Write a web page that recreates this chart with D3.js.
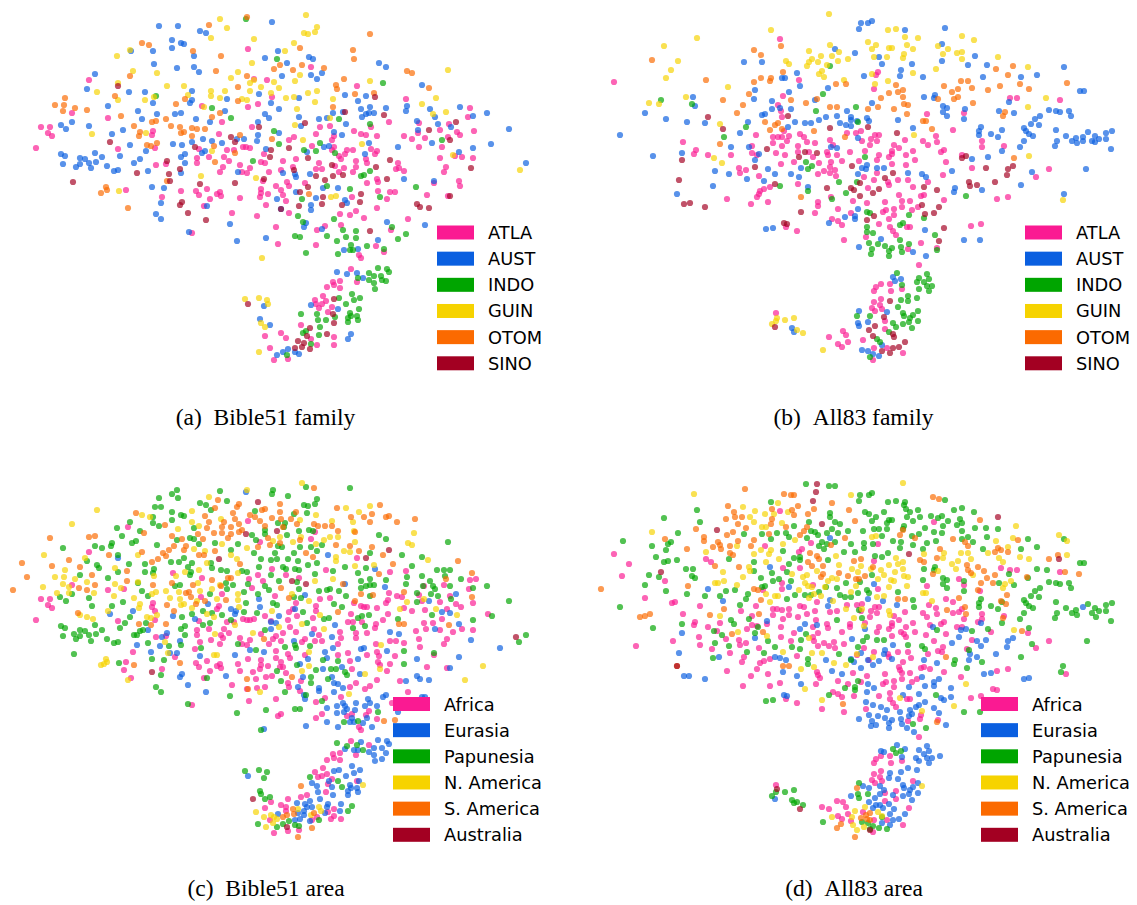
<!DOCTYPE html>
<html lang="en">
<head>
<meta charset="utf-8">
<title>language embeddings</title>
<script src="https://cdn.jsdelivr.net/npm/d3@7"></script>
<style>
  html, body { margin: 0; padding: 0; background: #fff; }
  svg { display: block; }
</style>
</head>
<body>
<svg width="1137" height="905"></svg>
<script>
// values, x and y in embedding units, one list per colour

const familyNames = ["ATLA", "AUST", "INDO", "GUIN", "OTOM", "SINO"];
const areaNames = ["Africa", "Eurasia", "Papunesia", "N. America", "S. America", "Australia"];
const captions = ["(a)\u00a0\u00a0Bible51 family", "(b)\u00a0\u00a0All83 family", "(c)\u00a0\u00a0Bible51 area", "(d)\u00a0\u00a0All83 area"];

const bibleFamilyAtla = [[89,80],[72,113],[108,118],[41,127],[50,127],[48,133],[52,136],[36,148],[118,149],[153,131],[152,135],[155,148],[156,165],[166,164],[126,190],[162,197],[181,191],[196,191],[199,195],[207,189],[210,199],[217,194],[220,192],[221,196],[204,206],[232,213],[257,216],[240,198],[248,49],[254,79],[267,80],[272,97],[258,104],[248,107],[202,106],[222,122],[252,127],[219,134],[199,149],[197,158],[197,163],[209,157],[227,150],[234,150],[243,147],[246,147],[250,148],[224,157],[229,161],[223,167],[220,172],[240,165],[250,168],[247,173],[242,172],[261,162],[265,163],[264,154],[269,172],[283,161],[281,170],[287,182],[289,186],[276,186],[261,189],[261,193],[260,197],[268,194],[281,190],[283,195],[286,201],[266,205],[263,181],[289,140],[289,213],
[311,67],[357,86],[406,99],[470,108],[468,117],[389,122],[419,123],[320,127],[330,126],[371,127],[449,124],[440,130],[457,132],[460,135],[474,131],[418,133],[354,131],[316,134],[361,134],[363,135],[366,135],[377,136],[294,137],[334,136],[332,140],[404,136],[412,139],[425,138],[448,137],[312,146],[334,147],[347,150],[353,150],[332,150],[345,154],[371,149],[377,151],[375,154],[419,147],[442,147],[440,158],[455,156],[462,157],[473,158],[283,161],[296,159],[339,156],[341,159],[356,161],[366,159],[367,163],[398,163],[319,163],[293,167],[316,169],[322,169],[335,166],[344,168],[356,167],[353,172],[339,172],[396,169],[399,168],[404,171],[446,167],[444,172],[377,179],[378,182],[380,184],[290,186],[305,183],[367,183],[459,181],[460,186],[434,183],[378,191],[380,192],[390,192],[395,192],[427,195],[448,196],[387,199],[352,197],[340,214],[350,215],[364,218],[408,219],[356,211],[377,208],
[192,233],[276,227],[278,244],[325,226],[317,230],[341,225],[316,245],[408,220],[391,230],[376,246],[378,248],[384,252],[359,255],[361,258],[351,269],[340,281],[333,282],[334,285],[327,287],[340,288],[357,282],[323,296],[315,300],[316,304],[326,301],[322,304],[319,308],[332,307],[328,312],[301,325],[281,333],[286,338],[265,336],[311,339],[334,337],[334,345],[317,345],[270,348],[274,360],[288,359]];
const bibleFamilyAust = [[159,26],[178,26],[200,31],[206,33],[272,22],[172,40],[174,39],[181,43],[184,44],[172,48],[153,51],[131,51],[194,56],[278,51],[265,58],[287,63],[154,64],[177,68],[194,67],[199,72],[282,76],[95,74],[87,89],[129,92],[145,92],[192,91],[227,99],[259,94],[153,103],[192,100],[190,103],[271,103],[272,101],[279,109],[108,106],[138,111],[157,114],[175,114],[181,113],[225,111],[265,114],[269,118],[72,122],[61,125],[66,129],[89,126],[142,119],[196,119],[210,122],[258,122],[123,130],[112,134],[279,133],[258,135],[203,139],[244,139],[237,139],[257,141],[212,141],[222,143],[192,142],[173,144],[182,145],[130,145],[146,151],[205,151],[202,153],[266,149],[185,154],[181,157],[61,154],[65,156],[95,153],[102,157],[120,156],[80,158],[85,159],[89,163],[80,164],[63,164],[76,167],[91,168],[96,162],[107,166],[114,171],[118,170],[134,163],[136,162],[140,159],[142,158],[148,171],[185,163],[181,173],[238,172],[283,173],[152,187],[164,188],[161,203],[207,206],[277,199],[156,214],[161,219],
[379,63],[386,67],[309,57],[313,59],[287,63],[322,73],[282,76],[311,75],[317,79],[422,85],[345,95],[366,96],[299,98],[358,101],[386,108],[361,109],[370,107],[374,113],[369,113],[366,114],[362,117],[343,112],[333,113],[327,118],[319,119],[299,117],[301,126],[407,106],[406,111],[430,109],[460,107],[435,117],[438,124],[417,121],[418,130],[473,116],[487,113],[509,129],[451,127],[346,124],[334,132],[342,135],[369,143],[324,147],[329,146],[398,147],[432,143],[491,144],[473,148],[459,152],[307,152],[365,154],[526,163],[310,174],[283,173],[285,175],[295,174],[296,177],[404,179],[434,181],[323,188],[338,188],[296,192],[316,198],[345,200],[347,203],[311,205],[311,210],[281,209],
[189,232],[230,224],[237,241],[266,238],[306,223],[304,227],[322,229],[387,222],[425,225],[358,249],[344,250],[378,240],[337,272],[347,274],[357,273],[363,278],[311,305],[264,306],[338,309],[260,319],[270,325],[351,334],[349,335],[348,339],[288,349],[283,352],[277,355],[295,352],[299,354]];
const bibleFamilyIndo = [[246,19],[277,59],[156,96],[212,108],[231,118],[274,131],[279,144],[253,161],
[383,83],[339,119],[370,124],[442,140],[320,143],[304,150],[316,151],[335,153],[280,144],[361,176],[364,175],[370,171],[416,187],[327,186],[350,189],[302,199],[380,197],[298,216],[334,219],
[303,222],[334,220],[295,236],[300,237],[343,230],[356,231],[327,236],[346,237],[356,238],[337,241],[351,245],[350,250],[353,250],[367,246],[306,253],[338,254],[392,227],[406,234],[398,239],[384,249],[378,268],[376,270],[387,269],[389,272],[369,273],[374,276],[381,276],[369,280],[358,278],[382,280],[386,281],[374,283],[375,289],[352,294],[339,298],[360,298],[354,300],[346,304],[359,309],[301,314],[317,314],[350,313],[351,316],[357,316],[348,318],[335,317],[318,320],[326,320],[358,320],[348,322],[320,327],[306,331],[303,333],[319,335],[311,344],[287,355]];
const bibleFamilyGuin = [[220,19],[227,28],[211,38],[254,39],[285,51],[117,56],[130,50],[252,63],[238,72],[133,71],[131,73],[157,73],[231,78],[274,82],[250,83],[254,80],[118,83],[167,86],[184,86],[279,88],[97,92],[211,91],[225,91],[250,91],[261,87],[271,93],[188,95],[211,96],[220,98],[242,99],[247,100],[286,98],[145,100],[118,100],[154,97],[204,107],[146,133],[92,134],[212,151],[119,191],[201,176],[256,178],
[306,15],[317,27],[304,33],[308,34],[315,32],[294,43],[300,75],[295,81],[370,81],[448,70],[308,93],[317,91],[286,98],[294,97],[315,102],[333,99],[297,109],[422,104],[436,98],[446,112],[433,114],[330,118],[295,125],[303,140],[362,144],[453,155],[520,170],[331,197],[336,196],
[262,258],[245,299],[259,298],[267,300],[268,304],[261,323],[265,327],[259,352]];
const bibleFamilyOtom = [[247,17],[209,25],[142,43],[149,45],[193,51],[221,56],[274,69],[280,65],[216,71],[247,76],[130,76],[238,87],[65,98],[115,96],[238,101],[55,105],[64,105],[75,108],[63,111],[87,110],[176,104],[185,99],[121,116],[220,113],[212,117],[166,119],[156,121],[152,122],[134,126],[171,126],[180,127],[192,128],[197,129],[205,129],[140,132],[139,136],[181,133],[184,132],[192,136],[240,135],[272,139],[147,145],[151,146],[157,143],[214,146],[235,153],[215,162],[106,187],[107,190],[101,193],[103,192],[167,181],[128,208],
[370,34],[300,48],[353,50],[354,59],[302,65],[281,65],[293,70],[324,68],[407,71],[412,73],[344,79],[336,85],[337,89],[429,88],[355,94],[374,93],[333,107],[309,194]];
const bibleFamilySino = [[118,86],[259,127],[110,142],[231,137],[235,142],[195,147],[271,150],[289,148],[270,157],[167,161],[180,169],[137,173],[170,181],[200,184],[235,183],[264,179],[73,182],[182,202],[180,205],[188,213],[206,220],[281,209],[169,174],
[375,97],[345,112],[384,115],[305,123],[456,122],[429,130],[450,140],[289,148],[308,158],[332,165],[390,160],[471,168],[294,170],[316,176],[333,176],[343,175],[325,180],[387,179],[308,187],[300,192],[361,194],[323,197],[322,204],[299,206],[342,205],[360,202],[417,204],[420,207],[429,208],[450,196],[376,167],
[206,220],[370,231],[248,304],[334,299],[333,314],[334,323],[310,328],[327,334],[307,336],[298,341],[304,343],[302,347],[295,348],[310,349]];

const allFamilyAtla = [[26,82],[192,39],[211,80],[195,96],[190,105],[193,111],[194,117],[168,135],[185,137],[190,137],[194,137],[201,136],[196,131],[185,143],[199,141],[194,146],[212,134],[216,137],[210,146],[219,142],[227,143],[210,152],[221,152],[225,157],[188,153],[197,155],[206,162],[231,163],[193,164],[230,174],[210,184],[95,142],[108,150],[106,154],[120,155],[143,155],[164,146],[164,153],[169,155],[151,168],[158,170],[152,173],[171,176],[182,187],[176,189],[172,191],[171,194],[169,197],[163,204],[180,202],[139,199],[239,152],[240,155],[249,155],[243,162],[242,167],[254,161],[247,170],[242,173],[236,171],[248,176],[242,140],[245,145],[259,133],[268,133],[273,131],[262,152],[262,154],[277,151],[271,161],[276,177],[280,188],[243,197],[265,201],[279,203],[250,209],[263,213],[230,202],[230,206],[232,206],[227,213],[228,211],[244,219],[250,221],
[290,72],[288,75],[286,89],[422,98],[429,98],[472,100],[339,114],[376,113],[365,130],[367,131],[348,136],[349,142],[335,141],[340,145],[317,140],[287,135],[291,135],[283,139],[289,141],[273,131],[274,141],[282,145],[306,145],[311,148],[277,151],[291,155],[289,160],[304,151],[304,154],[301,157],[318,155],[325,151],[327,160],[318,165],[304,164],[353,152],[356,150],[358,148],[358,162],[374,155],[394,141],[394,147],[416,146],[384,168],[355,175],[340,182],[461,169],[448,177],[310,180],[320,180],[286,180],[289,173],[276,177],[300,182],[301,185],[281,188],[325,187],[311,195],[312,195],[333,196],[336,195],[356,200],[314,201],[322,201],[297,202],[279,204],[314,207],[306,209],[330,207],[324,210],[298,210],[295,212],[306,215],[301,219],[409,199],[420,197],
[198,227],[209,231],[250,222],[254,225],[245,220],[291,224],[302,221],[302,227],[305,231],[308,235],[278,237],[256,240],[319,227],[322,227],[333,243],[320,249],[349,248],[383,226],[393,224],[331,265],[293,284],[302,284],[303,291],[314,289],[288,287],[286,291],[293,299],[286,302],[292,305],[284,308],[287,311],[294,309],[297,321],[297,329],[188,313],[255,331],[258,335],[241,337],[275,340],[260,342],[250,344],[254,347],[286,348],[299,348],[315,353],[285,360]];
const allFamilyAust = [[273,23],[274,23],[280,23],[271,29],[247,49],[267,53],[156,62],[174,62],[209,73],[194,78],[197,78],[276,76],[212,86],[240,88],[167,90],[201,92],[166,99],[105,97],[107,106],[184,101],[184,109],[192,108],[203,109],[227,100],[57,113],[78,119],[99,122],[117,123],[174,115],[177,114],[160,122],[152,133],[207,122],[217,123],[223,123],[231,120],[238,117],[249,116],[259,111],[263,117],[263,120],[252,123],[258,125],[263,126],[269,121],[200,127],[279,118],[32,135],[65,156],[94,153],[143,147],[161,147],[171,154],[167,160],[127,171],[141,174],[180,169],[187,174],[159,179],[176,181],[125,186],[213,168],[203,174],[211,177],[220,187],[243,147],[249,148],[270,138],[274,168],[270,174],[279,165],[89,194],[270,209],[257,217],[267,216],
[284,21],[281,23],[274,23],[357,28],[317,30],[354,44],[291,57],[294,64],[324,64],[354,61],[387,56],[380,65],[399,65],[313,70],[312,76],[276,76],[335,77],[395,77],[433,77],[449,75],[476,67],[492,91],[496,91],[347,95],[346,98],[336,97],[421,102],[355,106],[359,108],[355,112],[359,116],[377,109],[376,119],[284,103],[279,118],[281,121],[310,120],[325,128],[411,111],[426,113],[461,110],[468,111],[472,112],[481,111],[483,116],[452,116],[447,119],[443,124],[451,125],[436,128],[438,131],[441,134],[445,136],[468,130],[414,130],[393,127],[391,131],[391,135],[403,134],[410,137],[436,141],[432,147],[478,136],[469,141],[467,146],[484,141],[488,138],[489,143],[495,137],[500,132],[495,141],[504,141],[507,136],[511,139],[507,142],[518,133],[518,139],[524,131],[526,130],[523,149],[414,151],[400,157],[384,159],[498,169],[364,171],[334,174],[338,177],[320,173],[289,168],[296,168],[274,168],[278,169],[280,165],[444,172],[433,185],[367,188],[366,192],[394,190],[476,194],
[178,229],[185,228],[241,223],[267,219],[376,240],[392,240],[337,230],[271,247],[293,239],[325,252],[338,256],[305,277],[307,281],[313,279],[311,281],[271,311],[299,312],[270,323],[271,326],[280,322],[204,328],[206,332],[294,345],[274,350],[280,351],[285,354],[287,353],[291,356]];
const allFamilyIndo = [[242,66],[235,94],[73,100],[104,104],[228,111],[268,107],[158,127],[136,137],[270,122],[218,162],[224,166],[220,169],[277,157],[251,182],[269,182],[192,186],[220,191],[258,193],[244,199],[246,201],[279,212],
[277,157],[378,196],[280,212],[282,213],[321,215],[336,218],
[279,227],[279,232],[285,233],[312,240],[336,218],[312,225],[315,223],[347,235],[281,243],[290,244],[297,246],[304,248],[301,251],[284,249],[283,254],[301,256],[313,247],[314,252],[321,244],[349,250],[309,273],[339,274],[331,278],[329,282],[341,279],[336,282],[339,286],[344,286],[331,289],[341,291],[314,285],[320,296],[329,298],[313,300],[320,301],[310,307],[330,311],[315,313],[316,316],[325,315],[322,318],[321,322],[330,321],[315,324],[324,328],[305,323],[308,327],[301,332],[269,316],[282,316],[289,339],[292,342],[282,357]];
const allFamilyGuin = [[241,14],[183,30],[109,38],[76,46],[90,61],[83,70],[78,78],[242,45],[280,42],[221,51],[198,61],[201,64],[224,59],[221,62],[219,66],[230,62],[233,56],[244,56],[251,52],[250,61],[260,59],[239,65],[234,71],[231,74],[236,77],[256,80],[140,87],[98,97],[61,103],[71,104],[132,124],[126,158],[134,163],
[300,30],[308,29],[317,37],[330,38],[281,42],[288,45],[284,49],[284,51],[301,48],[304,48],[319,45],[325,49],[350,46],[360,49],[355,54],[374,36],[376,35],[386,40],[369,53],[374,52],[374,59],[316,54],[315,58],[299,57],[286,57],[348,69],[325,73],[284,74],[300,81],[410,57],[440,67],[458,98],[440,107],[326,135],[441,156],[475,200],[287,84],
[189,318],[188,321],[184,324],[197,320],[206,318],[209,330],[215,333],[235,350]];
const allFamilyOtom = [[64,60],[166,50],[173,55],[193,46],[118,80],[195,72],[173,78],[166,82],[183,78],[182,81],[248,84],[258,84],[161,94],[135,100],[155,105],[149,113],[203,100],[218,103],[229,99],[242,107],[249,107],[280,109],[177,122],[187,125],[190,123],[182,130],[194,129],[226,131],[132,144],[257,137],[213,197],
[408,69],[425,66],[420,75],[479,83],[356,86],[373,81],[380,81],[308,85],[315,90],[310,92],[301,93],[315,97],[293,98],[350,99],[364,92],[370,89],[384,88],[400,90],[412,86],[432,84],[441,89],[366,99],[370,97],[385,103],[316,104],[320,105],[282,107],[290,107],[280,109],[306,109],[319,114],[335,121],[338,121],[417,112],[415,116],[344,129],[426,158]];
const allFamilySino = [[120,117],[135,129],[200,116],[242,128],[94,160],[179,149],[217,152],[229,153],[211,157],[167,167],[264,166],[91,180],[187,184],[239,188],[272,183],[263,188],[266,190],[272,196],[96,204],[102,203],[117,207],[213,212],[280,127],
[280,127],[309,133],[378,156],[374,158],[398,168],[425,166],[420,169],[418,171],[419,175],[407,182],[389,185],[381,182],[382,186],[305,173],[297,178],[291,189],[285,193],[273,196],[336,187],[349,190],[334,205],[351,207],[337,214],[346,213],[286,216],[273,183],
[196,223],[199,224],[279,220],[356,228],[351,241],[302,301],[296,317],[287,326],[281,330],[187,327],[285,336],[305,334],[306,337],[317,342],[311,347],[305,348],[294,351],[302,353]];

const bibleAreaAfrica = [[128,57],[248,51],[89,82],[260,72],[173,103],[72,115],[108,120],[124,119],[41,129],[50,129],[48,135],[52,138],[36,150],[118,151],[153,133],[152,137],[155,141],[155,150],[156,167],[166,166],[133,182],[126,192],[124,200],[131,208],[162,199],[175,187],[202,108],[222,124],[201,127],[249,109],[258,105],[252,118],[263,111],[219,136],[217,139],[199,151],[197,160],[197,165],[209,159],[227,152],[234,152],[243,149],[247,150],[250,150],[254,149],[265,146],[224,159],[229,163],[221,165],[223,168],[220,174],[240,168],[250,170],[247,175],[242,174],[261,164],[269,174],[283,163],[281,171],[200,172],[211,170],[195,179],[196,193],[199,197],[207,191],[210,201],[217,196],[220,194],[221,198],[204,208],[238,194],[248,189],[240,201],[253,202],[232,215],[257,218],[265,217],[261,190],[261,195],[260,199],[268,196],[276,188],[281,192],[283,197],[286,203],[266,207],[272,206],[288,213],[256,209],
[315,62],[311,69],[357,88],[326,100],[390,102],[406,101],[470,110],[476,109],[286,105],[272,99],[299,108],[469,119],[424,116],[444,115],[275,126],[320,129],[330,128],[389,123],[388,130],[397,126],[402,127],[419,125],[386,133],[296,133],[354,133],[450,126],[440,132],[422,131],[473,133],[316,136],[316,141],[361,136],[364,137],[367,137],[377,138],[404,138],[412,141],[425,140],[461,137],[456,134],[447,139],[293,139],[289,142],[297,146],[313,148],[351,144],[351,146],[388,144],[383,150],[442,149],[424,153],[433,153],[488,144],[288,150],[271,151],[348,152],[353,152],[362,152],[376,154],[375,158],[314,159],[290,157],[426,159],[416,161],[440,160],[453,162],[462,159],[473,160],[296,162],[340,162],[367,163],[356,163],[319,165],[276,166],[283,163],[273,169],[281,172],[302,172],[305,169],[315,171],[322,171],[341,168],[356,168],[419,169],[447,169],[390,171],[396,171],[404,173],[376,174],[444,174],[338,174],[276,181],[288,184],[305,185],[348,183],[367,185],[377,182],[379,186],[420,177],[434,185],[290,188],[395,186],[338,185],[350,191],[280,192],[280,197],[378,192],[380,195],[390,194],[427,197],[447,198],[272,206],[287,203],[352,199],[387,201],[356,213],[377,210],[301,211],[350,217],[370,216],[289,217],[400,211],[365,219],
[232,215],[247,219],[249,231],[276,229],[192,235],[278,246],[281,244],[265,217],[289,217],[300,221],[341,227],[316,232],[325,228],[365,220],[370,216],[408,222],[392,233],[369,241],[322,244],[316,248],[347,246],[352,244],[366,245],[377,249],[359,257],[361,260],[378,251],[351,271],[369,275],[356,285],[333,284],[340,283],[327,290],[334,288],[340,290],[323,298],[315,302],[318,307],[327,304],[322,306],[332,309],[328,314],[357,311],[326,322],[307,325],[301,327],[288,329],[271,332],[265,338],[281,335],[286,337],[286,341],[270,350],[274,363],[288,361],[299,360],[334,339],[328,342],[317,347],[334,346],[331,349],[341,349],[312,350]];
const bibleAreaEurasia = [[246,22],[118,88],[208,134],[110,144],[133,141],[173,146],[231,139],[236,141],[235,144],[259,129],[260,137],[195,149],[148,160],[167,163],[162,167],[137,175],[160,176],[180,171],[151,182],[170,183],[177,183],[200,186],[235,185],[250,180],[264,182],[271,159],[271,152],[276,153],[182,204],[180,207],[188,215],[226,206],
[328,85],[375,99],[345,114],[385,117],[305,125],[456,124],[295,139],[279,146],[278,152],[450,143],[442,142],[429,131],[335,155],[459,154],[435,159],[390,162],[399,164],[312,164],[332,167],[294,171],[471,170],[500,178],[333,178],[361,179],[364,178],[387,181],[417,189],[459,187],[325,182],[327,188],[308,189],[358,189],[300,194],[323,199],[342,197],[360,204],[450,198],[417,206],[420,209],[429,210],[406,211],[332,207],[303,207],[334,213],[338,214],[343,218],[319,218],[298,217],
[264,259],[206,222],[304,225],[305,229],[334,222],[319,221],[386,225],[383,227],[422,227],[425,227],[398,242],[368,229],[370,233],[365,236],[343,233],[345,236],[356,233],[337,236],[327,238],[377,236],[347,239],[355,240],[337,243],[344,242],[352,248],[367,248],[327,252],[350,252],[354,252],[363,253],[338,257],[372,257],[306,256],[188,215],[378,270],[387,271],[361,272],[389,274],[345,279],[354,280],[358,280],[369,282],[374,278],[382,278],[386,283],[374,285],[382,289],[375,291],[352,296],[334,301],[339,300],[354,303],[360,300],[346,306],[248,306],[312,313],[317,316],[318,322],[329,311],[332,317],[334,319],[359,311],[350,315],[351,318],[357,318],[348,321],[358,322],[348,325],[333,325],[320,329],[310,331],[297,333],[305,334],[307,337],[311,333],[312,337],[304,341],[328,334],[327,337],[341,334],[325,343],[340,341],[278,344],[298,343],[304,345],[300,349],[295,350],[310,351]];
const bibleAreaPapunesia = [[177,20],[172,24],[159,28],[178,28],[220,21],[227,31],[200,33],[206,35],[272,24],[273,20],[155,37],[161,37],[211,40],[255,41],[172,42],[174,41],[181,45],[184,46],[153,47],[172,50],[130,52],[153,53],[117,58],[159,56],[194,58],[140,61],[265,60],[278,53],[265,64],[122,66],[177,70],[190,68],[194,69],[252,65],[256,70],[136,71],[132,73],[112,73],[95,76],[102,78],[111,76],[63,78],[157,75],[199,74],[215,73],[238,74],[118,85],[231,80],[254,83],[282,77],[87,91],[129,94],[145,94],[171,92],[179,92],[184,88],[192,93],[211,93],[261,89],[271,90],[277,89],[97,95],[99,98],[145,102],[154,99],[153,103],[188,97],[191,102],[190,105],[212,98],[221,100],[227,101],[242,101],[247,102],[259,97],[118,102],[80,105],[108,108],[271,105],[138,113],[175,116],[180,115],[226,113],[233,115],[248,114],[265,116],[142,121],[72,124],[60,127],[66,131],[89,128],[148,126],[210,124],[227,119],[244,122],[269,120],[258,124],[123,132],[246,133],[273,133],[277,135],[92,136],[112,136],[203,141],[212,143],[222,145],[244,142],[257,143],[192,144],[182,147],[130,147],[125,153],[146,153],[210,153],[203,155],[185,156],[181,159],[61,156],[65,158],[95,155],[102,160],[120,158],[80,160],[85,161],[74,164],[80,166],[63,166],[76,169],[89,165],[91,171],[96,164],[107,169],[114,173],[118,172],[134,165],[137,165],[140,161],[143,160],[148,173],[185,165],[181,175],[169,176],[201,178],[238,174],[256,180],[152,189],[164,190],[119,193],[74,184],[161,205],[207,208],[156,217],[277,201],[265,160],[231,150],
[350,18],[306,17],[273,20],[273,24],[288,26],[317,29],[315,34],[304,35],[308,36],[307,43],[294,44],[278,53],[285,53],[284,57],[299,61],[309,60],[313,61],[287,65],[379,65],[386,69],[448,72],[278,76],[282,78],[300,77],[311,77],[322,75],[317,81],[294,83],[275,83],[272,88],[278,90],[288,89],[298,91],[370,83],[402,85],[422,87],[317,93],[308,95],[283,97],[286,99],[295,99],[299,100],[345,97],[366,98],[412,96],[437,100],[444,100],[450,100],[272,105],[333,101],[315,104],[358,103],[422,106],[445,106],[461,109],[279,111],[297,112],[361,111],[370,109],[386,110],[407,107],[430,111],[406,114],[433,116],[450,116],[487,116],[473,118],[435,119],[423,116],[299,119],[319,121],[327,120],[330,119],[339,121],[361,118],[366,116],[370,115],[374,115],[417,123],[431,124],[438,126],[346,126],[370,126],[294,127],[301,128],[451,129],[274,133],[279,135],[334,134],[342,137],[417,132],[509,131],[492,146],[303,142],[432,145],[324,149],[329,148],[358,148],[362,146],[369,145],[398,149],[473,150],[307,153],[365,156],[353,158],[526,165],[519,172],[517,170],[310,176],[296,178],[295,175],[285,177],[404,181],[434,183],[404,194],[323,190],[338,191],[297,195],[316,200],[331,199],[336,199],[276,201],[345,202],[347,205],[311,207],[311,213],[328,209],[281,211],
[156,217],[161,222],[188,234],[230,226],[285,222],[306,225],[266,240],[237,243],[295,239],[300,239],[261,260],[322,231],[378,242],[344,252],[358,251],[337,273],[347,276],[357,275],[363,280],[245,301],[259,300],[267,302],[264,308],[310,307],[338,311],[342,317],[260,321],[261,324],[265,329],[270,327],[352,336],[350,337],[348,341],[319,350],[289,351],[283,354],[258,354],[277,357],[295,355],[299,356]];
const bibleAreaNAmerica = [[97,40],[72,54],[192,41],[209,27],[247,20],[142,45],[150,47],[192,52],[199,56],[178,59],[221,49],[222,74],[44,85],[85,88],[138,85],[194,79],[205,81],[231,85],[247,78],[273,71],[207,93],[237,89],[115,98],[65,100],[55,107],[64,107],[75,109],[87,112],[63,114],[115,114],[121,118],[43,117],[69,117],[69,123],[57,123],[94,123],[114,126],[134,128],[138,112],[154,106],[176,106],[185,102],[199,100],[238,103],[156,122],[152,124],[166,121],[212,119],[220,115],[200,121],[179,122],[198,113],[170,128],[171,128],[180,129],[197,131],[217,129],[238,124],[238,130],[140,134],[139,138],[181,135],[184,134],[192,138],[239,137],[272,141],[108,141],[80,145],[87,147],[93,149],[147,147],[151,148],[157,145],[207,144],[214,147],[235,155],[215,164],[253,163],[165,172],[168,183],[106,189],[107,192],[101,195],[104,194],[214,185],[217,185],[128,210],
[302,13],[346,38],[370,36],[359,42],[316,45],[300,50],[332,51],[353,52],[354,61],[414,63],[330,67],[338,67],[324,70],[293,72],[280,67],[301,67],[273,71],[316,74],[355,72],[408,73],[412,75],[344,81],[350,82],[336,87],[336,91],[428,90],[355,96],[374,95],[333,109],[315,111],[292,124],[309,131],[407,132],[424,129],[400,139],[436,139],[320,145],[457,145],[272,141],[302,154],[279,157],[324,159],[381,175],[309,182],[380,199],[483,196],[302,201],[309,196],[365,204],[465,210],
[260,222],[349,224],[363,315],[256,342],[264,347],[271,345],[274,347],[277,349],[273,353],[266,357],[298,339],[319,337],[321,341],[311,345]];
const bibleAreaSAmerica = [[136,43],[218,30],[239,34],[237,37],[215,38],[205,46],[209,52],[233,43],[235,49],[250,45],[255,47],[260,51],[262,40],[265,39],[165,55],[207,58],[214,63],[224,52],[222,57],[222,63],[231,57],[239,54],[239,62],[242,60],[231,64],[265,56],[144,63],[198,64],[203,69],[228,68],[268,68],[50,68],[89,67],[95,66],[172,66],[182,69],[174,76],[169,80],[163,83],[166,86],[158,89],[152,92],[184,80],[186,76],[215,81],[270,75],[199,85],[204,85],[142,82],[109,85],[69,90],[22,93],[23,91],[52,96],[80,97],[27,107],[92,105],[127,101],[240,94],[258,77],[127,111],[95,115],[13,120],[79,118],[87,120],[153,115],[172,113],[193,115],[212,110],[228,108],[231,108],[221,116],[189,122],[186,123],[191,127],[167,135],[174,141],[196,134],[205,131],[226,130],[78,143],[139,154],[151,155],[166,154],[180,193],[134,195],[264,169],[247,209],[248,219],
[314,18],[280,34],[337,38],[380,35],[280,42],[296,42],[351,47],[364,47],[372,44],[386,47],[389,46],[397,52],[370,52],[415,49],[272,48],[281,49],[291,49],[314,54],[318,56],[325,56],[332,56],[297,54],[283,57],[338,61],[355,62],[300,70],[336,75],[350,76],[372,77],[271,75],[280,73],[306,83],[313,87],[359,81],[383,85],[393,94],[458,91],[459,89],[379,104],[472,103],[446,109],[281,118],[343,114],[404,122],[361,124],[373,125],[289,128],[355,131],[472,127],[338,142],[399,154],[404,154],[449,155],[292,207],
[301,316],[384,251],[395,250],[293,339],[283,347],[287,345],[294,344],[314,343],[312,358],[298,367]];
const bibleAreaAustralia = [[258,32],[246,64],[277,61],[219,89],[152,202],[277,61],[389,80],[366,88],[292,111],[306,114],[516,167],[253,329],[287,357]];

const allAreaAfrica = [[192,41],[223,73],[177,76],[26,84],[41,94],[34,106],[77,111],[118,89],[123,92],[214,79],[211,82],[195,98],[212,98],[194,113],[194,119],[175,120],[57,128],[84,133],[87,132],[112,136],[168,136],[185,139],[189,139],[194,140],[201,139],[212,136],[216,137],[225,115],[229,132],[227,141],[219,144],[242,142],[249,141],[95,144],[153,141],[185,145],[195,149],[201,145],[210,147],[228,150],[262,154],[269,135],[274,134],[259,135],[107,152],[106,155],[120,157],[132,153],[129,161],[164,146],[164,155],[169,156],[159,159],[179,154],[193,157],[206,163],[225,157],[239,154],[240,158],[254,162],[262,157],[111,167],[85,171],[112,175],[138,169],[151,170],[158,173],[152,175],[124,179],[171,178],[193,167],[203,171],[230,163],[231,164],[225,167],[226,171],[230,176],[236,173],[241,176],[246,172],[247,178],[256,174],[142,183],[209,186],[48,176],[156,187],[154,192],[172,193],[176,191],[174,195],[169,199],[182,189],[139,201],[180,204],[163,206],[229,202],[230,205],[232,208],[250,211],[265,203],[260,214],[192,213],[155,216],[182,216],[228,214],[227,216],[258,214],[262,216],[269,185],
[346,52],[290,74],[288,76],[286,91],[413,98],[422,100],[429,100],[472,102],[371,109],[376,115],[339,116],[392,121],[290,119],[358,129],[365,132],[341,135],[287,137],[291,137],[283,141],[289,143],[282,147],[273,141],[317,142],[348,138],[349,144],[335,143],[339,147],[340,147],[306,146],[311,150],[277,153],[291,157],[289,162],[304,153],[304,156],[301,159],[318,157],[325,153],[327,162],[313,162],[318,167],[304,166],[316,164],[353,154],[356,152],[358,150],[342,155],[358,164],[338,165],[365,143],[371,142],[374,139],[376,149],[369,157],[374,157],[394,144],[394,149],[416,146],[390,152],[403,162],[440,163],[384,170],[461,171],[448,178],[346,171],[355,177],[340,184],[350,181],[354,182],[379,179],[310,182],[320,182],[286,182],[276,178],[300,184],[301,187],[281,190],[315,192],[323,188],[311,197],[333,198],[336,197],[342,199],[356,202],[312,200],[314,203],[322,203],[297,204],[279,206],[314,209],[306,211],[329,209],[324,212],[298,212],[295,214],[306,217],[373,207],[409,201],[420,199],[478,204],[405,219],[278,208],[273,212],
[198,229],[209,233],[234,239],[250,224],[254,227],[245,222],[266,226],[291,226],[302,223],[302,229],[305,233],[308,237],[278,239],[256,242],[319,229],[322,229],[333,245],[320,251],[350,250],[383,228],[393,226],[404,221],[409,220],[331,267],[293,286],[302,286],[303,293],[314,291],[288,289],[286,293],[293,301],[286,304],[292,307],[284,310],[287,313],[294,311],[297,323],[297,331],[325,311],[308,321],[308,329],[321,338],[188,315],[249,331],[255,332],[258,337],[241,339],[234,337],[275,342],[260,344],[250,346],[254,349],[263,351],[286,350],[299,350],[315,355],[285,362],[332,249],[291,225]];
const allAreaEurasia = [[242,68],[182,97],[120,119],[135,131],[201,117],[242,130],[240,136],[179,151],[217,154],[229,155],[212,159],[94,163],[167,168],[264,169],[277,159],[91,183],[131,187],[187,187],[192,188],[198,190],[238,190],[263,189],[266,192],[280,190],[273,198],[195,202],[209,206],[244,201],[246,203],[96,206],[101,206],[103,205],[117,209],[213,214],[280,214],[254,204],
[286,114],[280,129],[309,135],[295,131],[495,137],[393,153],[378,159],[373,160],[345,157],[277,159],[389,171],[398,170],[425,168],[420,171],[418,173],[419,177],[393,176],[371,167],[364,173],[408,184],[389,187],[382,184],[381,190],[305,175],[297,180],[296,184],[304,189],[291,191],[285,195],[273,198],[336,190],[349,193],[396,204],[403,203],[436,209],[441,208],[334,207],[351,209],[346,212],[337,216],[346,216],[363,218],[321,217],[286,218],[281,215],[273,183],
[196,225],[199,226],[279,222],[285,219],[356,230],[363,227],[337,232],[353,228],[331,224],[315,225],[346,238],[351,243],[358,255],[278,232],[279,234],[285,235],[293,237],[299,240],[281,245],[290,246],[312,242],[322,240],[324,244],[328,237],[331,235],[271,249],[284,251],[283,256],[288,255],[297,248],[304,250],[301,253],[301,258],[313,249],[314,254],[319,258],[321,246],[326,262],[309,275],[339,276],[317,279],[293,281],[296,282],[314,287],[331,280],[341,281],[328,288],[336,284],[339,288],[344,288],[352,286],[331,291],[341,293],[320,298],[329,300],[313,302],[302,303],[301,308],[310,309],[330,313],[315,315],[325,317],[322,320],[316,318],[321,324],[330,323],[315,326],[324,330],[275,316],[281,318],[292,316],[296,320],[292,324],[287,328],[281,332],[263,326],[305,325],[301,334],[306,339],[288,335],[285,338],[292,335],[295,338],[302,344],[317,344],[311,349],[305,350],[294,353],[302,355],[187,329]];
const allAreaPapunesia = [[218,14],[241,16],[247,16],[272,25],[274,25],[271,31],[183,32],[109,40],[76,48],[242,43],[242,47],[277,42],[112,52],[247,52],[252,54],[221,52],[206,56],[90,63],[35,71],[174,64],[189,63],[198,63],[201,67],[156,64],[223,61],[227,62],[230,65],[239,63],[244,59],[250,63],[260,61],[275,61],[263,74],[247,72],[219,68],[239,74],[234,72],[231,76],[236,79],[64,76],[80,74],[83,72],[78,80],[183,69],[195,81],[197,81],[256,82],[267,82],[276,78],[68,87],[76,92],[80,91],[89,90],[141,89],[206,88],[212,87],[240,90],[98,99],[105,99],[166,92],[201,94],[212,90],[61,105],[71,107],[104,106],[107,108],[166,101],[184,103],[199,102],[173,108],[191,109],[203,111],[185,111],[57,115],[78,121],[99,124],[117,126],[147,120],[138,121],[132,126],[177,116],[174,117],[160,124],[158,129],[207,125],[217,125],[223,125],[231,122],[238,117],[249,118],[258,113],[252,125],[257,127],[263,127],[270,123],[199,129],[32,137],[152,135],[65,158],[94,154],[146,154],[143,150],[161,149],[170,157],[167,163],[126,161],[134,165],[127,173],[141,176],[159,182],[176,183],[125,188],[180,171],[187,177],[204,177],[213,170],[218,164],[212,179],[220,189],[220,194],[249,150],[271,140],[274,148],[275,171],[279,167],[270,177],[251,184],[263,190],[267,217],[270,211],[257,218],[272,112],[279,120],
[284,23],[281,25],[274,25],[357,30],[300,32],[308,31],[317,32],[316,35],[318,39],[330,40],[277,42],[281,44],[296,42],[322,42],[366,40],[374,38],[376,37],[386,42],[288,47],[319,47],[332,47],[343,46],[354,46],[350,48],[284,51],[285,53],[301,50],[304,50],[325,51],[360,51],[372,49],[299,53],[316,56],[315,59],[337,58],[355,56],[369,55],[374,53],[387,58],[398,58],[410,59],[286,59],[291,59],[299,59],[346,62],[354,63],[374,61],[275,61],[294,66],[324,66],[331,64],[380,67],[399,67],[440,69],[348,71],[313,72],[305,71],[339,73],[325,75],[374,69],[385,72],[276,73],[476,69],[285,74],[276,78],[312,78],[335,79],[395,79],[433,79],[449,77],[300,83],[287,86],[294,87],[492,93],[496,93],[347,97],[346,100],[336,99],[421,104],[449,99],[459,100],[355,108],[359,110],[335,110],[284,105],[355,114],[359,118],[376,111],[411,113],[426,115],[440,108],[461,112],[468,113],[472,114],[481,113],[483,118],[452,118],[447,121],[443,126],[451,127],[376,121],[279,120],[281,123],[310,122],[436,130],[438,133],[441,136],[445,138],[468,132],[325,130],[326,137],[393,129],[391,133],[391,137],[403,136],[410,139],[414,132],[436,143],[432,149],[478,138],[469,143],[467,148],[471,145],[484,143],[488,140],[489,145],[500,134],[507,138],[504,143],[511,141],[508,147],[518,135],[518,141],[524,133],[526,132],[523,151],[414,153],[400,159],[384,161],[441,158],[349,160],[499,171],[444,174],[433,187],[334,176],[337,179],[320,175],[296,170],[289,170],[280,167],[274,172],[367,190],[366,194],[379,198],[381,180],[475,196],[473,202],[394,192],
[178,231],[185,230],[241,225],[257,219],[267,220],[348,225],[376,242],[392,242],[325,254],[338,258],[305,279],[313,281],[308,283],[271,313],[280,324],[270,324],[271,328],[197,322],[206,320],[184,326],[188,322],[204,330],[209,332],[206,333],[215,335],[235,352],[274,352],[294,347],[280,353],[285,356],[287,355],[291,358],[299,359],[282,359]];
const allAreaNAmerica = [[106,24],[64,62],[263,25],[155,37],[167,41],[162,47],[166,52],[177,44],[186,44],[190,33],[200,42],[194,53],[174,57],[178,57],[118,82],[149,76],[195,74],[207,70],[173,80],[166,84],[183,80],[181,84],[191,89],[229,101],[135,102],[161,97],[162,101],[178,92],[251,95],[248,86],[264,99],[273,96],[155,107],[153,109],[127,113],[130,113],[136,111],[149,115],[204,104],[206,106],[215,107],[219,105],[217,113],[220,116],[224,117],[240,111],[244,108],[249,109],[237,117],[268,116],[211,120],[178,124],[187,126],[190,126],[182,132],[226,124],[233,126],[221,128],[263,122],[245,131],[258,139],[132,146],[150,162],[179,166],[221,168],[224,183],[234,183],[195,182],[246,193],[258,195],[213,199],[269,184],[276,156],[266,148],[270,102],[226,197],[217,219],
[315,13],[428,56],[471,65],[479,71],[408,71],[425,68],[284,67],[288,66],[420,77],[479,85],[356,83],[336,84],[373,83],[380,83],[400,83],[432,87],[441,89],[355,88],[411,88],[415,92],[308,88],[315,92],[310,94],[301,95],[383,89],[370,91],[364,94],[293,100],[368,99],[366,101],[370,99],[283,99],[350,101],[315,99],[385,105],[307,102],[316,106],[320,107],[290,109],[296,105],[303,110],[306,111],[417,114],[423,111],[415,118],[301,117],[319,116],[335,123],[338,123],[289,127],[296,126],[344,131],[301,141],[302,145],[426,160],[276,155],[274,139],[285,187],[378,214],[273,97],
[218,220],[234,230],[378,215],[312,228],[366,236],[334,241],[334,316],[267,341],[264,347],[244,347],[277,337],[290,342],[294,346],[265,355],[267,357],[269,360],[276,357]];
const allAreaSAmerica = [[157,19],[196,24],[203,25],[206,25],[244,33],[140,36],[204,40],[210,36],[226,39],[261,40],[146,42],[147,47],[154,47],[138,49],[184,39],[184,49],[206,45],[220,44],[267,51],[150,54],[158,58],[183,54],[198,57],[219,57],[108,59],[139,65],[145,62],[181,64],[212,65],[216,61],[77,69],[116,67],[116,71],[130,72],[150,71],[166,70],[132,75],[125,77],[142,76],[163,76],[133,79],[243,75],[257,68],[99,79],[142,83],[145,85],[222,83],[229,86],[231,89],[220,92],[127,96],[151,97],[224,96],[235,96],[266,91],[273,89],[251,103],[235,104],[233,107],[260,106],[268,109],[271,109],[277,106],[100,116],[166,119],[170,120],[173,130],[136,139],[122,145],[171,144],[144,164],[175,162],[13,119],[52,147],[57,146],[62,144],[195,196],[201,196],[89,196],
[345,27],[351,29],[392,50],[315,60],[312,65],[327,68],[430,70],[365,69],[377,72],[380,76],[352,79],[407,82],[410,78],[413,80],[415,80],[420,82],[470,85],[332,90],[336,92],[349,88],[461,89],[379,95],[390,97],[380,100],[383,103],[396,101],[407,105],[399,108],[345,104],[477,102],[491,104],[439,107],[405,113],[393,113],[277,106],[279,108],[273,88],[285,97],[419,125],[310,129],[317,129],[371,128],[413,131],[418,134],[390,120],[359,140],[377,137],[378,144],[415,148],[434,161],[358,187],
[255,234],[269,318],[349,252],[278,345],[282,343],[273,348],[279,349],[282,350],[253,354],[249,358],[267,367]];
const allAreaAustralia = [[229,14],[228,22],[225,31],[129,60],[234,54],[73,102],[89,196],[410,47],[321,84],[471,89],[189,319],[212,339],[282,360]];

const familySeries = [
  [bibleFamilyAtla, bibleFamilyAust, bibleFamilyIndo, bibleFamilyGuin, bibleFamilyOtom, bibleFamilySino],
  [allFamilyAtla, allFamilyAust, allFamilyIndo, allFamilyGuin, allFamilyOtom, allFamilySino]
];
const areaSeries = [
  [bibleAreaAfrica, bibleAreaEurasia, bibleAreaPapunesia, bibleAreaNAmerica, bibleAreaSAmerica, bibleAreaAustralia],
  [allAreaAfrica, allAreaEurasia, allAreaPapunesia, allAreaNAmerica, allAreaSAmerica, allAreaAustralia]
];

const colors = ["#fa1a92", "#0a5fe0", "#00a500", "#f6d300", "#fb6a00", "#a30022"];

const panels = [
  {ox: 0,   oy: 0,   names: familyNames, series: familySeries[0], caption: captions[0], capX: 265.5, capY: 425, legX: 437, legY: 232.5},
  {ox: 588, oy: 0,   names: familyNames, series: familySeries[1], caption: captions[1], capX: 853.5, capY: 425, legX: 1025, legY: 232.5},
  {ox: 0,   oy: 470, names: areaNames,   series: areaSeries[0],   caption: captions[2], capX: 266,   capY: 896, legX: 393, legY: 704},
  {ox: 588, oy: 470, names: areaNames,   series: areaSeries[1],   caption: captions[3], capX: 854,   capY: 896, legX: 981, legY: 704}
];

function dropRepeats(pts) {
  const kept = [];
  pts.forEach(function (p) {
    const near = kept.some(function (k) {
      return Math.abs(k[0] - p[0]) <= 2 && Math.abs(k[1] - p[1]) <= 2;
    });
    if (!near) kept.push(p);
  });
  return kept;
}

const svg = d3.select("svg");

panels.forEach(function (p) {
  const scaleX = d3.scaleLinear().domain([0, 549]).range([p.ox, p.ox + 549]);
  const scaleY = d3.scaleLinear().domain([0, 400]).range([p.oy, p.oy + 400]);
  const scaleColor = d3.scaleOrdinal().domain(p.names).range(colors);
  const scaleRow = d3.scalePoint().domain(p.names).range([p.legY, p.legY + 130.8]);

  const g = svg.append("g");

  p.series.forEach(function (pts, i) {
    g.append("g")
      .selectAll("circle")
      .data(dropRepeats(pts))
      .enter()
      .append("circle")
        .attr("r", 3.1)
        .attr("fill", scaleColor(p.names[i]))
        .attr("fill-opacity", 0.68)
        .attr("cx", function (d) { return scaleX(d[0]) })
        .attr("cy", function (d) { return scaleY(d[1]) });
  });

  const leg = g.append("g")
    .selectAll("g")
    .data(p.names)
    .enter()
    .append("g")
      .attr("transform", function (d) { return "translate(" + p.legX + "," + scaleRow(d) + ")" });

  leg.append("rect")
    .attr("x", 0)
    .attr("y", -7)
    .attr("width", 37)
    .attr("height", 14)
    .attr("fill", function (d) { return scaleColor(d) });

  leg.append("text")
    .attr("x", 51)
    .attr("y", 6.5)
    .attr("font-family", "DejaVu Sans")
    .attr("font-size", 17.8)
    .attr("fill", "#000")
    .text(function (d) { return d });

  g.append("text")
    .attr("x", p.capX)
    .attr("y", p.capY)
    .attr("text-anchor", "middle")
    .attr("font-family", "Liberation Serif")
    .attr("font-size", 23.5)
    .attr("fill", "#000")
    .text(p.caption);
});
</script>
</body>
</html>
